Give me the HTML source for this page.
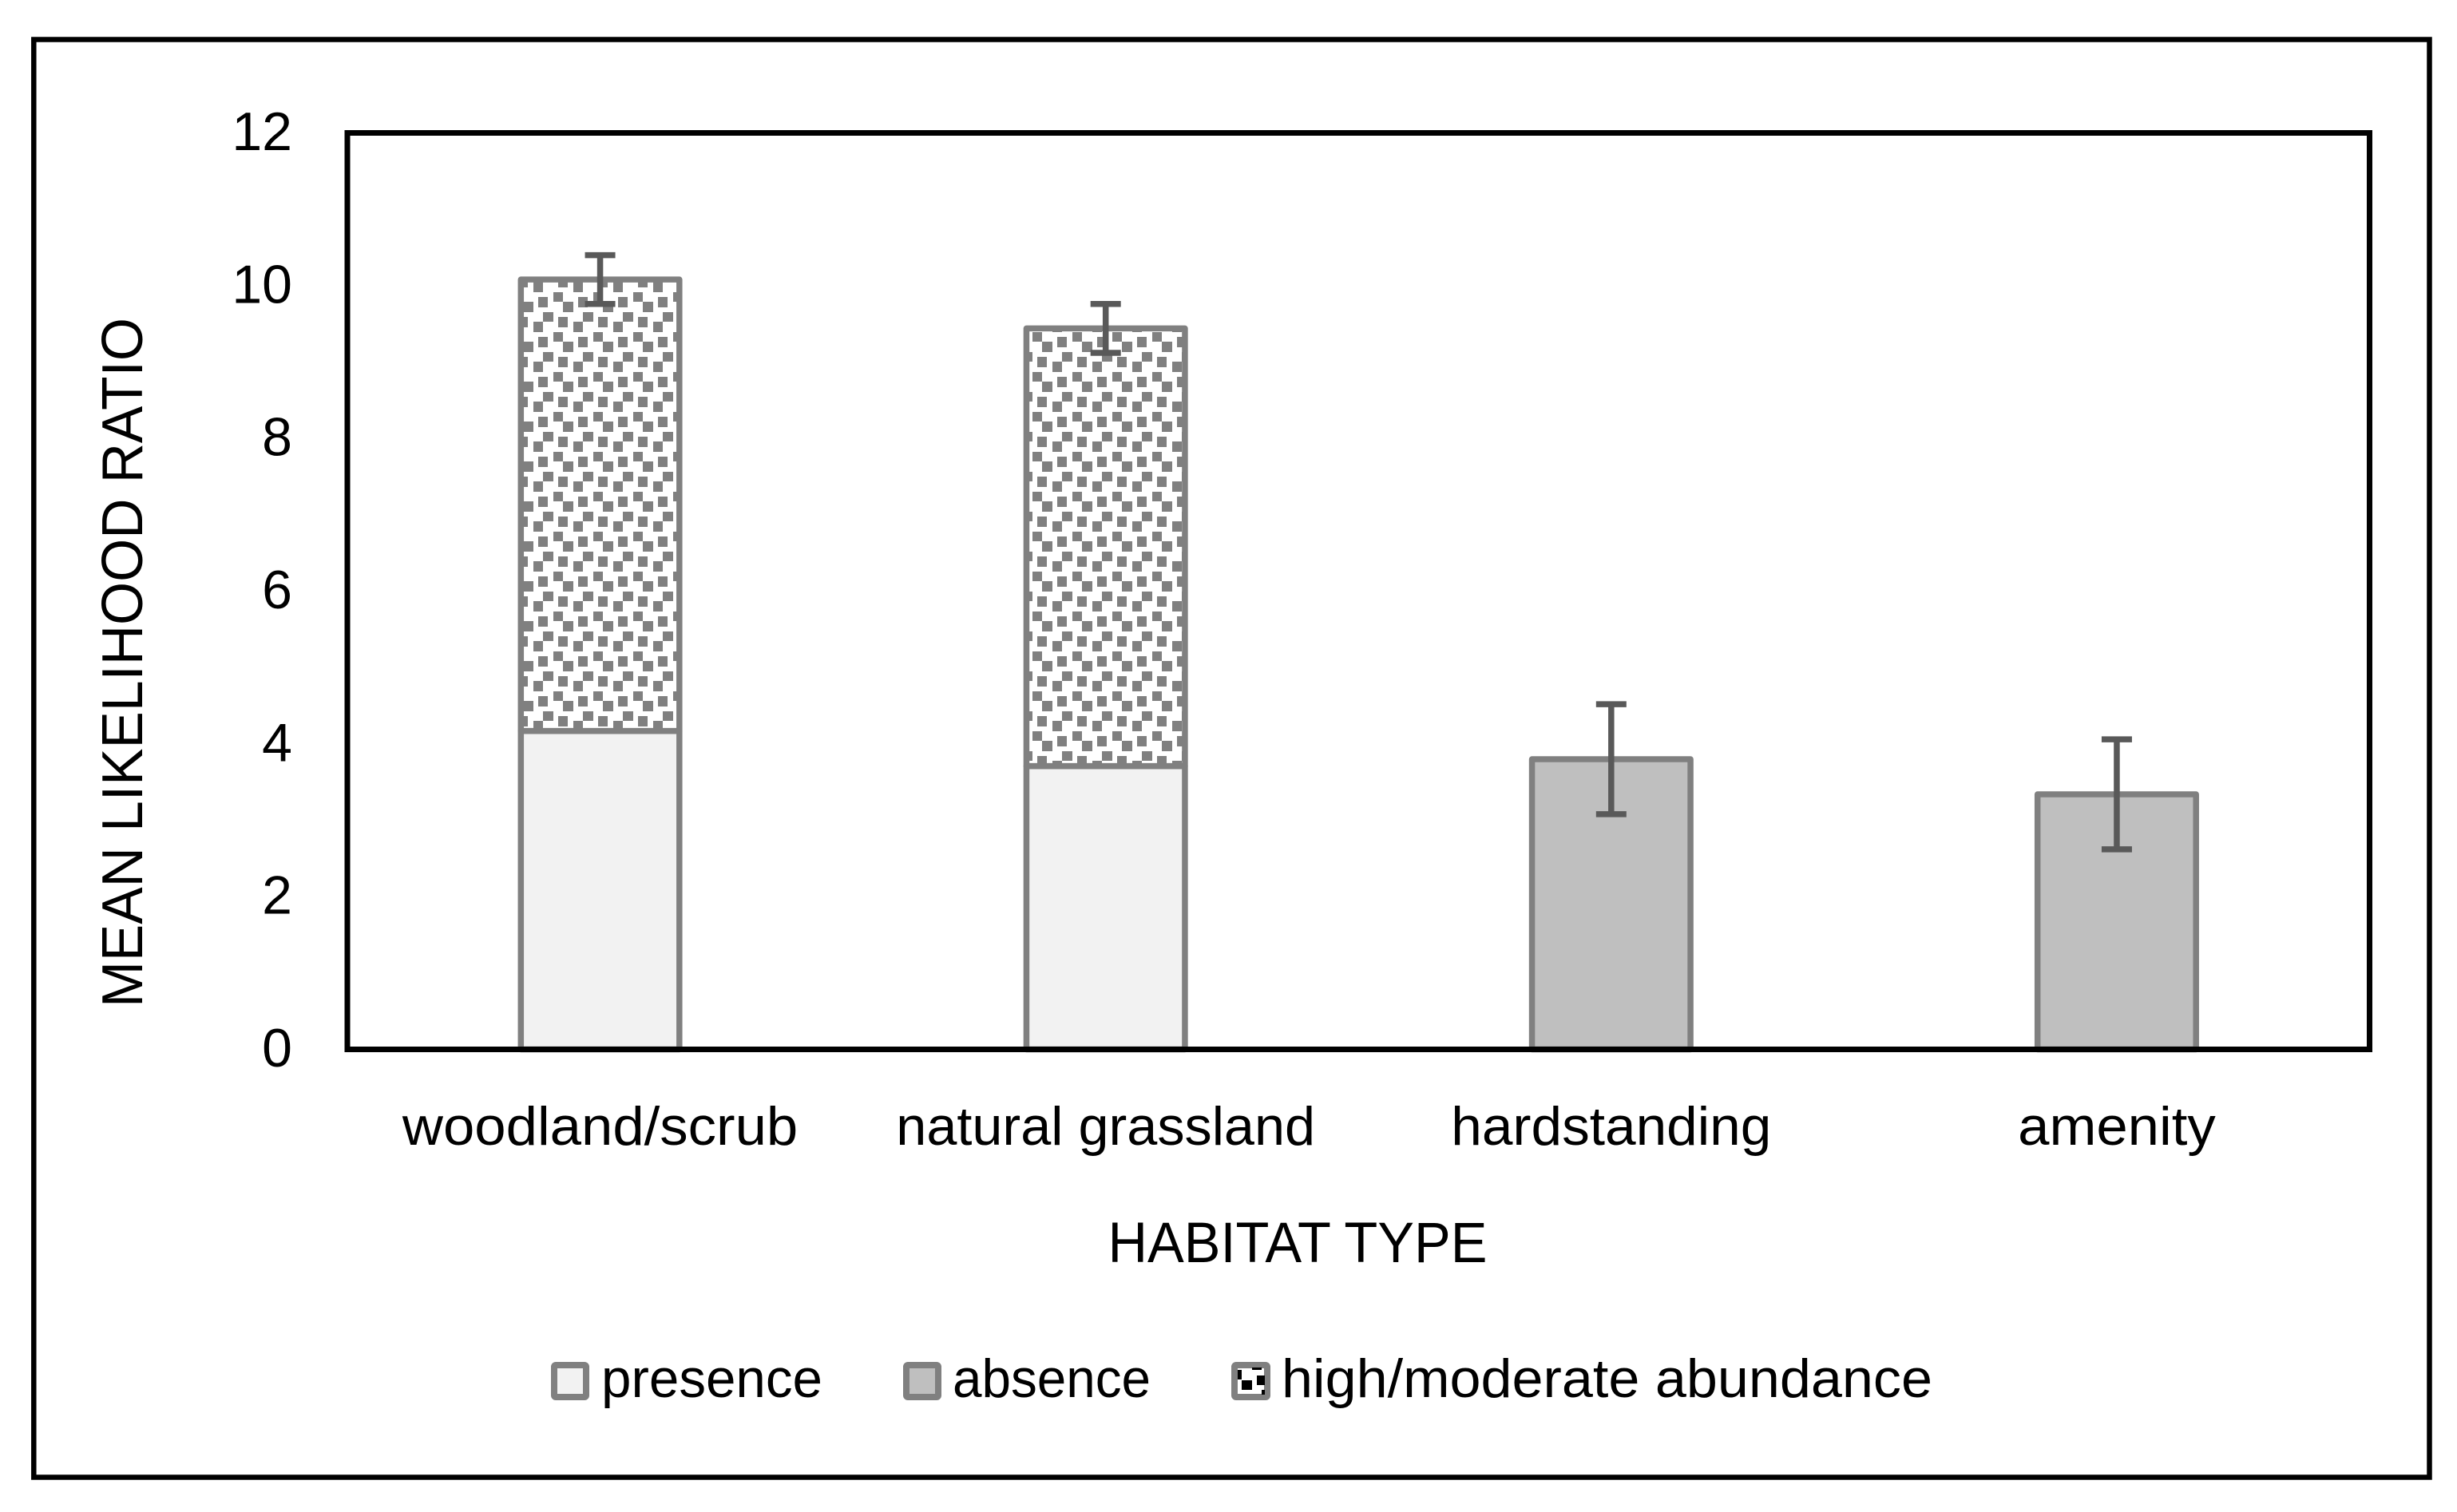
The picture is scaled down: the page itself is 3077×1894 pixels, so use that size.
<!DOCTYPE html>
<html lang="en">
<head>
<meta charset="utf-8">
<title>Mean likelihood ratio by habitat type</title>
<style>
html,body{margin:0;padding:0;background:#fff;}
svg{display:block;}
text{font-family:"Liberation Sans",sans-serif;font-size:68px;fill:#000;}
</style>
</head>
<body>
<svg id="chart" xmlns="http://www.w3.org/2000/svg" width="3077" height="1894" viewBox="0 0 3077 1894">
  <defs>
    <pattern id="dots-a" patternUnits="userSpaceOnUse" x="668" y="353" width="50" height="50">
      <rect width="50" height="50" fill="#fff"/>
      <g fill="#808080">
        <rect x="0" y="0" width="12" height="13"/><rect x="6" y="19" width="12" height="13"/>
        <rect x="25" y="13" width="12" height="12"/><rect x="37" y="25" width="13" height="13"/>
        <rect x="12" y="38" width="13" height="12"/><rect x="31" y="44" width="12" height="6"/><rect x="31" y="0" width="12" height="7"/>
      </g>
    </pattern>
    <pattern id="dots-b" patternUnits="userSpaceOnUse" x="1268" y="403" width="50" height="50">
      <rect width="50" height="50" fill="#fff"/>
      <g fill="#808080">
        <rect x="0" y="0" width="12" height="13"/><rect x="6" y="19" width="12" height="13"/>
        <rect x="25" y="13" width="12" height="12"/><rect x="37" y="25" width="13" height="13"/>
        <rect x="12" y="38" width="13" height="12"/><rect x="31" y="44" width="12" height="6"/><rect x="31" y="0" width="12" height="7"/>
      </g>
    </pattern>
  </defs>

  <rect width="3077" height="1894" fill="#fff"/>
  <rect x="42.3" y="49.5" width="3000.2" height="1801" fill="none" stroke="#000" stroke-width="6.5"/>

  <g id="bars"></g>
  <rect x="435" y="166.5" width="2532.5" height="1148" fill="none" stroke="#000" stroke-width="7"/>
  <g id="errors"></g>
  <g id="y-ticks"></g>
  <g id="x-ticks"></g>

  <text style="font-size:72px" transform="translate(178,830) rotate(-90)" text-anchor="middle" textLength="864" lengthAdjust="spacingAndGlyphs">MEAN LIKELIHOOD RATIO</text>
  <text style="font-size:71px" x="1625" y="1581" text-anchor="middle" textLength="475" lengthAdjust="spacingAndGlyphs">HABITAT TYPE</text>

  <g>
    <g>
      <rect x="694" y="1710" width="40" height="40" rx="2" fill="#f2f2f2" stroke="#808080" stroke-width="8"/>
      <text x="753" y="1750" textLength="277" lengthAdjust="spacingAndGlyphs">presence</text>
    </g>
    <g>
      <rect x="1135" y="1710" width="40" height="40" rx="2" fill="#bfbfbf" stroke="#808080" stroke-width="8"/>
      <text x="1193" y="1750" textLength="248" lengthAdjust="spacingAndGlyphs">absence</text>
    </g>
    <g>
      <rect x="1546" y="1710" width="41" height="40" rx="2" fill="#fff" stroke="#808080" stroke-width="8"/>
      <g fill="#000">
        <rect x="1568" y="1713" width="12" height="3"/><rect x="1550" y="1716" width="5" height="12"/>
        <rect x="1574" y="1723" width="10" height="12"/><rect x="1555" y="1729" width="13" height="12"/>
        <rect x="1580" y="1741" width="4" height="6"/>
      </g>
      <text x="1605" y="1750" textLength="815" lengthAdjust="spacingAndGlyphs">high/moderate abundance</text>
    </g>
  </g>
</svg>

<script>
const categories = ["woodland/scrub", "natural grassland", "hardstanding", "amenity"];
const presence = [4.17, 3.71, 0, 0];
const absence = [0, 0, 3.80, 3.34];
const abundance = [5.91, 5.73, 0, 0];
const errorMargin = [0.32, 0.32, 0.72, 0.72];
const yTicks = [0, 2, 4, 6, 8, 10, 12];

const NS = "http://www.w3.org/2000/svg";
const plotLeft = 435, plotRight = 2967.5, plotTop = 166.5, plotBottom = 1314.5;
const yMax = 12;
const barWidth = 198.5;
const capHalf = 19;
const dotPatterns = ["url(#dots-a)", "url(#dots-b)", "url(#dots-a)", "url(#dots-b)"];

function labelStretch(i) {
  return i === 1 ? 1.006 : i === 2 ? 1.02 : 1.04;
}
function yScale(v) {
  return plotBottom - (v / yMax) * (plotBottom - plotTop);
}
function xCenter(i) {
  return plotLeft + (i + 0.5) * (plotRight - plotLeft) / categories.length;
}
function make(tag, attrs, parent) {
  const el = document.createElementNS(NS, tag);
  for (const k in attrs) el.setAttribute(k, attrs[k]);
  parent.appendChild(el);
  return el;
}
function segment(i, base, value, fill, parent) {
  const top = yScale(base + value);
  const el = make("rect", {
    x: xCenter(i) - barWidth / 2,
    y: top,
    width: barWidth,
    height: yScale(base) - top,
    fill: fill,
    stroke: "#808080",
    "stroke-width": 7.5,
    "stroke-linejoin": "round"
  }, parent);
  return el;
}

const barsGroup = document.getElementById("bars");
const errorsGroup = document.getElementById("errors");
const yGroup = document.getElementById("y-ticks");
const xGroup = document.getElementById("x-ticks");

categories.forEach(function (cat, i) {
  const slug = cat.replace(/[^a-z]+/g, "-");
  let base = 0;
  if (presence[i] > 0) {
    const el = segment(i, base, presence[i], "#f2f2f2", barsGroup);
    
    
    base += presence[i];
  }
  if (absence[i] > 0) {
    const el = segment(i, base, absence[i], "#bfbfbf", barsGroup);
    
    
    base += absence[i];
  }
  if (abundance[i] > 0) {
    const el = segment(i, base, abundance[i], dotPatterns[i], barsGroup);
    
    
    base += abundance[i];
  }

  const cx = xCenter(i);
  const hi = yScale(base + errorMargin[i]);
  const lo = yScale(base - errorMargin[i]);
  const err = make("path", {
    d: "M" + (cx - capHalf) + " " + hi + "H" + (cx + capHalf) +
       "M" + cx + " " + hi + "V" + lo +
       "M" + (cx - capHalf) + " " + lo + "H" + (cx + capHalf),
    fill: "none",
    stroke: "#595959",
    "stroke-width": 7.5
  }, errorsGroup);
  
  

  const label = make("text", { x: cx, y: 1434, "text-anchor": "middle" }, xGroup);
  label.textContent = cat;
  
  
  label.setAttribute("textLength", label.getComputedTextLength() * labelStretch(i));
  label.setAttribute("lengthAdjust", "spacingAndGlyphs");
});

yTicks.forEach(function (t) {
  const label = make("text", { x: 366, y: yScale(t) + 21.5, "text-anchor": "end" }, yGroup);
  label.textContent = String(t);
  
  
});
</script>
</body>
</html>
